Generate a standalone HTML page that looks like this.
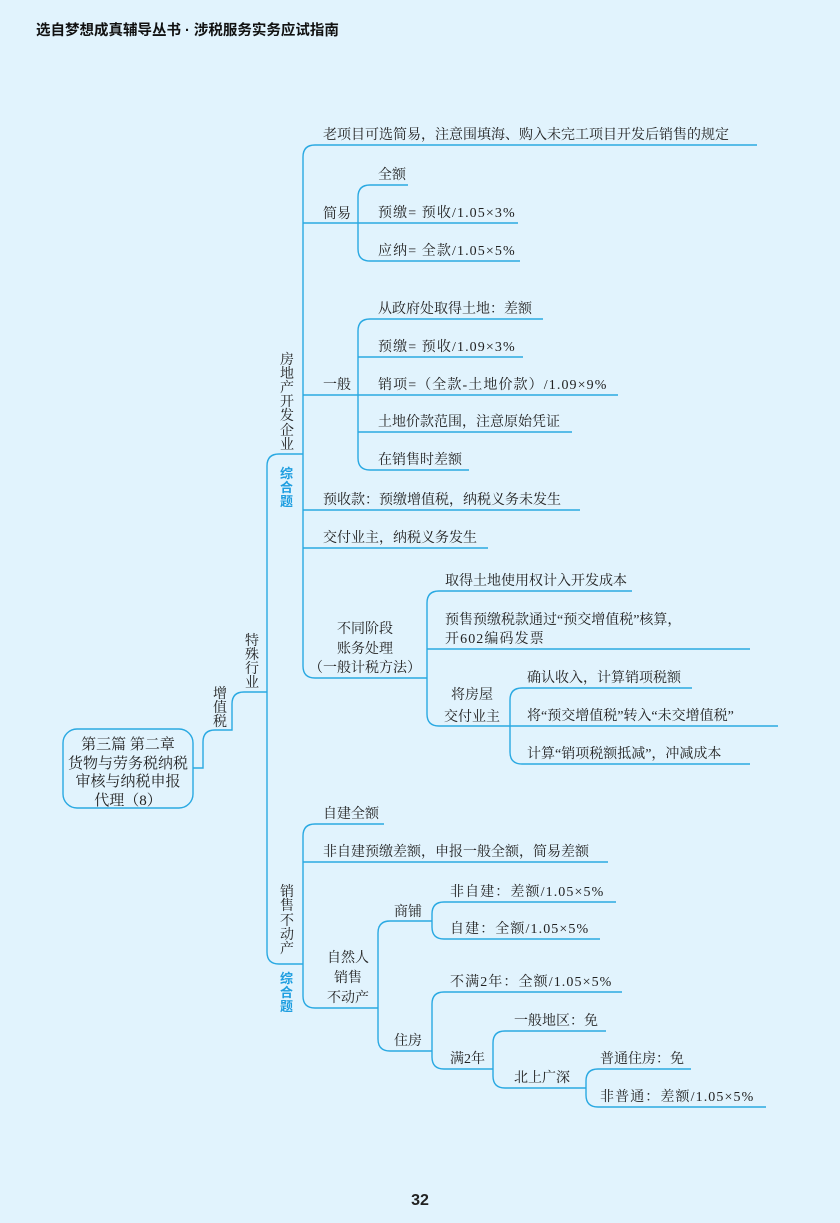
<!DOCTYPE html>
<html><head><meta charset="utf-8"><style>
body{margin:0;background:#e1f3fd;}
svg{display:block}
text{font-family:"Liberation Serif","Noto Serif CJK SC",serif;font-size:14px;fill:#222;}
.f{letter-spacing:1.1px}
.h{font-family:"Liberation Sans","Noto Sans CJK SC",sans-serif;font-weight:bold;font-size:14.5px;fill:#111}
.b{font-family:"Liberation Sans","Noto Sans CJK SC",sans-serif;font-weight:bold;font-size:13px;fill:#1e9ee0}
path,rect{fill:none;stroke:#2aa9e2;stroke-width:1.4}
</style></head><body>
<svg width="840" height="1223" viewBox="0 0 840 1223">
<text class="h" x="36" y="35">选自梦想成真辅导丛书 · 涉税服务实务应试指南</text>
<text x="420" y="1205" text-anchor="middle" style="font-family:'Liberation Sans',sans-serif;font-size:16px;font-weight:bold">32</text>

<!-- root box -->
<rect x="63" y="729" width="130" height="79" rx="14"/>
<g style="font-size:15px">
<text x="128" y="749" text-anchor="middle" style="font-size:15px">第三篇  第二章</text>
<text x="128" y="768" text-anchor="middle" style="font-size:15px">货物与劳务税纳税</text>
<text x="128" y="786" text-anchor="middle" style="font-size:15px">审核与纳税申报</text>
<text x="128" y="805" text-anchor="middle" style="font-size:15px">代理（8）</text>
</g>
<path d="M193 768 H203 V742 Q203 730 215 730 H232 V704 Q232 692 244 692 H267"/>
<text x="213" y="698">增</text><text x="213" y="712">值</text><text x="213" y="726">税</text>
<text x="245" y="645">特</text><text x="245" y="659">殊</text><text x="245" y="673">行</text><text x="245" y="687">业</text>

<!-- main trunk 267 -->
<path d="M303 454 H279 Q267 454 267 466 V952 Q267 964 279 964 H303"/>
<g>
<text x="280" y="364">房</text><text x="280" y="378">地</text><text x="280" y="392">产</text><text x="280" y="406">开</text><text x="280" y="420">发</text><text x="280" y="435">企</text><text x="280" y="449">业</text>
<text class="b" x="280" y="478">综</text><text class="b" x="280" y="492">合</text><text class="b" x="280" y="506">题</text>
<text x="280" y="896">销</text><text x="280" y="910">售</text><text x="280" y="925">不</text><text x="280" y="939">动</text><text x="280" y="953">产</text>
<text class="b" x="280" y="983">综</text><text class="b" x="280" y="997">合</text><text class="b" x="280" y="1011">题</text>
</g>

<!-- upper trunk 303 -->
<path d="M757 145 H315 Q303 145 303 157 V666 Q303 678 315 678 H427"/>
<path d="M303 223 H518 M303 395 H618 M303 510 H580 M303 548 H488"/>
<text x="323" y="139">老项目可选简易，注意围填海、购入未完工项目开发后销售的规定</text>
<text x="323" y="218">简易</text>
<text x="323" y="389">一般</text>
<text x="323" y="504">预收款：预缴增值税，纳税义务未发生</text>
<text x="323" y="542">交付业主，纳税义务发生</text>

<!-- 简易 -->
<path d="M408 185 H370 Q358 185 358 197 V249 Q358 261 370 261 H520"/>
<text x="378" y="179">全额</text>
<text class="f" x="378" y="217">预缴= 预收/1.05×3%</text>
<text class="f" x="378" y="255">应纳= 全款/1.05×5%</text>

<!-- 一般 -->
<path d="M543 319 H370 Q358 319 358 331 V458 Q358 470 370 470 H469"/>
<path d="M358 357 H523 M358 432 H572"/>
<text x="378" y="313">从政府处取得土地：差额</text>
<text class="f" x="378" y="351">预缴= 预收/1.09×3%</text>
<text class="f" x="378" y="389">销项=（全款-土地价款）/1.09×9%</text>
<text x="378" y="426">土地价款范围，注意原始凭证</text>
<text x="378" y="464">在销售时差额</text>

<!-- 不同阶段 -->
<text x="365" y="633" text-anchor="middle">不同阶段</text>
<text x="365" y="653" text-anchor="middle">账务处理</text>
<text x="365" y="672" text-anchor="middle">（一般计税方法）</text>
<path d="M632 591 H439 Q427 591 427 603 V714 Q427 726 439 726 H510"/>
<path d="M427 649 H750"/>
<text x="445" y="585">取得土地使用权计入开发成本</text>
<text x="445" y="624">预售预缴税款通过“预交增值税”核算，</text>
<text class="f" x="445" y="643">开602编码发票</text>
<text x="472" y="699" text-anchor="middle">将房屋</text>
<text x="472" y="721" text-anchor="middle">交付业主</text>
<path d="M692 688 H522 Q510 688 510 700 V752 Q510 764 522 764 H750"/>
<path d="M510 726 H778"/>
<text x="527" y="682">确认收入，计算销项税额</text>
<text x="527" y="720">将“预交增值税”转入“未交增值税”</text>
<text x="527" y="758">计算“销项税额抵减”，冲减成本</text>

<!-- lower trunk 303 -->
<path d="M384 824 H315 Q303 824 303 836 V996 Q303 1008 315 1008 H378"/>
<path d="M303 862 H608"/>
<text x="323" y="818">自建全额</text>
<text x="323" y="856">非自建预缴差额，申报一般全额，简易差额</text>
<text x="348" y="962" text-anchor="middle">自然人</text>
<text x="348" y="982" text-anchor="middle">销售</text>
<text x="348" y="1002" text-anchor="middle">不动产</text>
<path d="M432 921 H390 Q378 921 378 933 V1039 Q378 1051 390 1051 H432"/>
<text x="394" y="916">商铺</text>
<text x="394" y="1045">住房</text>
<path d="M616 902 H444 Q432 902 432 914 V927 Q432 939 444 939 H600"/>
<text class="f" x="450" y="896">非自建：差额/1.05×5%</text>
<text class="f" x="450" y="933">自建：全额/1.05×5%</text>
<path d="M622 992 H444 Q432 992 432 1004 V1057 Q432 1069 444 1069 H493"/>
<text class="f" x="450" y="986">不满2年：全额/1.05×5%</text>
<text x="450" y="1063">满2年</text>
<path d="M606 1031 H505 Q493 1031 493 1043 V1076 Q493 1088 505 1088 H586"/>
<text x="514" y="1025">一般地区：免</text>
<text x="514" y="1082">北上广深</text>
<path d="M691 1069 H598 Q586 1069 586 1081 V1095 Q586 1107 598 1107 H766"/>
<text x="600" y="1063">普通住房：免</text>
<text class="f" x="600" y="1101">非普通：差额/1.05×5%</text>
</svg>
</body></html>
